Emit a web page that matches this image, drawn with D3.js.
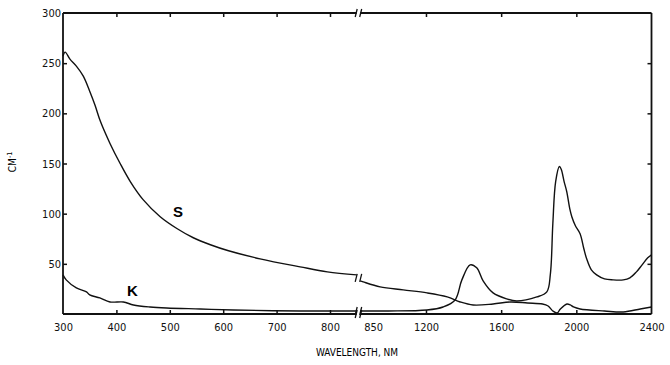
<!DOCTYPE html>
<html>
<head>
<meta charset="utf-8">
<script src="https://cdnjs.cloudflare.com/ajax/libs/d3/7.8.5/d3.min.js"></script>
<style>
  body { margin: 0; background: #fff; }
  svg { display: block; }
  .tick text { font-family: "Liberation Sans Narrow", "DejaVu Sans Condensed", "Liberation Sans", sans-serif; font-size: 11px; fill: #111; }
  .domain { display: none; }
  .tick line { stroke: #111; stroke-width: 1.5; }
</style>
</head>
<body>
<div id="chart"></div>
<script>
// break in the x axis: 300-850 nm on the left, 850-2400 nm on the right
var ticksLeft = [300, 400, 500, 600, 700, 800];
var ticksRight = [850, 1200, 1600, 2000, 2400];
var ticksY = [50, 100, 150, 200, 250, 300];

// S curve (scattering), cm-1
var sLeftWl = [300, 304, 313, 325, 338, 350, 360, 370, 388, 407, 426, 450, 482, 514, 544, 576, 610, 669, 744, 795, 850];
var sLeftVal = [257, 261, 254, 247, 237, 222, 208, 192, 170, 150, 132, 114, 97, 85, 76, 69, 63, 55, 47, 42, 39];
var sRightWl = [850, 866, 956, 1079, 1206, 1313, 1382, 1451, 1557, 1650, 1740, 1820, 1850, 1875, 1898, 1915, 1950, 1968, 1985, 2020, 2150, 2250, 2340, 2400];
var sRightVal = [33, 32, 27, 24, 21, 17, 12, 9, 10, 12, 11, 10, 8, 3, 1, 5, 10, 9, 7, 5, 3, 2, 5, 7];

// K curve (absorption), cm-1
var kLeftWl = [300, 306, 325, 344, 350, 369, 388, 413, 432, 463, 494, 557, 619, 744, 850];
var kLeftVal = [39, 34, 26, 22, 19, 16, 12, 12, 9, 7, 6, 5, 4, 3, 3];
var kRightWl = [850, 1000, 1205, 1291, 1355, 1391, 1435, 1470, 1504, 1557, 1630, 1683, 1790, 1843, 1862, 1875, 1890, 1910, 1920, 1935, 1949, 1965, 1976, 1995, 2020, 2040, 2055, 2080, 2108, 2150, 2195, 2250, 2285, 2320, 2350, 2380, 2400];
var kRightVal = [3, 3, 4, 7, 14, 34, 49, 46, 33, 21, 15, 13, 17, 22, 40, 90, 132, 147, 144, 132, 122, 105, 97, 88, 80, 65, 55, 44, 39, 35, 34, 34, 36, 42, 49, 56, 59];

var svgWidth = 670;
var svgHeight = 365;

var svg = d3.select("#chart")
  .append("svg")
  .attr("width", svgWidth)
  .attr("height", svgHeight);

var xLeft = d3.scaleLinear().domain([300, 850]).range([63, 356.7]);
var xRight = d3.scaleLinear().domain([850, 2400]).range([360.2, 651.5]);
var y = d3.scaleLinear().domain([0, 300]).range([314, 13]);

var plotTop = y(300), plotBottom = y(0), plotLeft = xLeft(300), plotRight = xRight(2400);

// frame
var frame = svg.append("g").attr("stroke", "#111").attr("stroke-width", 1.8).attr("fill", "none");
frame.append("line").attr("x1", plotLeft).attr("x2", plotLeft).attr("y1", plotTop).attr("y2", plotBottom);
frame.append("line").attr("x1", plotRight).attr("x2", plotRight).attr("y1", plotTop).attr("y2", plotBottom);
frame.append("line").attr("x1", plotLeft).attr("x2", xLeft(850)).attr("y1", plotTop).attr("y2", plotTop);
frame.append("line").attr("x1", xRight(850)).attr("x2", plotRight).attr("y1", plotTop).attr("y2", plotTop);
frame.append("line").attr("x1", plotLeft).attr("x2", xLeft(850)).attr("y1", plotBottom).attr("y2", plotBottom);
frame.append("line").attr("x1", xRight(850)).attr("x2", plotRight).attr("y1", plotBottom).attr("y2", plotBottom);

// bottom axis
var fmt = d3.format("d");
var bottomLeft = svg.append("g")
  .attr("transform", `translate(0, ${plotBottom})`)
  .call(d3.axisBottom(xLeft).tickValues(ticksLeft).tickSize(-4).tickPadding(9).tickFormat(fmt));
var bottomRight = svg.append("g")
  .attr("transform", `translate(0, ${plotBottom})`)
  .call(d3.axisBottom(xRight).tickValues(ticksRight).tickSize(-4).tickPadding(9).tickFormat(fmt));
bottomLeft.selectAll(".tick").filter(d => d == 300).select("line").remove();
bottomRight.selectAll(".tick").filter(d => d == 850 || d == 2400).select("line").remove();
bottomRight.selectAll(".tick").filter(d => d == 850).select("text").attr("dx", 13);

// top axis ticks
svg.append("g")
  .attr("transform", `translate(0, ${plotTop})`)
  .call(d3.axisTop(xLeft).tickValues([400, 500, 600, 700, 800]).tickSize(-4).tickFormat(""));
svg.append("g")
  .attr("transform", `translate(0, ${plotTop})`)
  .call(d3.axisTop(xRight).tickValues([1200, 1600, 2000]).tickSize(-4).tickFormat(""));

// left and right axis
var leftAxis = svg.append("g")
  .attr("transform", `translate(${plotLeft}, 0)`)
  .call(d3.axisLeft(y).tickValues(ticksY).tickSize(-4).tickPadding(2).tickFormat(fmt));
leftAxis.selectAll(".tick").filter(d => d == 300).select("line").remove();
svg.append("g")
  .attr("transform", `translate(${plotRight}, 0)`)
  .call(d3.axisRight(y).tickValues([50, 100, 150, 200, 250]).tickSize(-4).tickFormat(""));

// curves
var lineLeft = d3.line().x(d => xLeft(d[0])).y(d => y(d[1])).curve(d3.curveCatmullRom.alpha(0.5));
var lineRight = d3.line().x(d => xRight(d[0])).y(d => y(d[1])).curve(d3.curveCatmullRom.alpha(0.5));

var curves = svg.append("g").attr("fill", "none").attr("stroke", "#111").attr("stroke-width", 1.4);
curves.append("path").attr("d", lineLeft(d3.zip(sLeftWl, sLeftVal)));
curves.append("path").attr("d", lineRight(d3.zip(sRightWl, sRightVal)));
curves.append("path").attr("d", lineLeft(d3.zip(kLeftWl, kLeftVal)));
curves.append("path").attr("d", lineRight(d3.zip(kRightWl, kRightVal)));

// break marks
var breaks = svg.append("g").attr("stroke", "#111").attr("stroke-width", 1.3);
[y(300), y(0), y(36), y(3)].forEach(function(yy) {
  breaks.append("line").attr("x1", xLeft(850) - 1.5).attr("x2", xLeft(850) + 0.5).attr("y1", yy + 4).attr("y2", yy - 4);
  breaks.append("line").attr("x1", xRight(850) - 0.5).attr("x2", xRight(850) + 1.5).attr("y1", yy + 4).attr("y2", yy - 4);
});

// curve labels
svg.append("text").attr("x", xLeft(506)).attr("y", y(97))
  .attr("font-family", "Liberation Sans, sans-serif").attr("font-weight", "bold").attr("font-size", 15)
  .text("S");
svg.append("text").attr("x", xLeft(420)).attr("y", y(18))
  .attr("font-family", "Liberation Sans, sans-serif").attr("font-weight", "bold").attr("font-size", 15)
  .text("K");

// axis titles
svg.append("text")
  .attr("x", 357).attr("y", 356)
  .attr("text-anchor", "middle")
  .attr("font-family", "Liberation Sans Narrow, DejaVu Sans Condensed, sans-serif")
  .attr("font-size", 10)
  .text("WAVELENGTH, NM");

svg.append("text")
  .attr("transform", "translate(16, 162) rotate(-90)")
  .attr("text-anchor", "middle")
  .attr("font-family", "Liberation Sans Narrow, DejaVu Sans Condensed, sans-serif")
  .attr("font-size", 10)
  .html('CM<tspan baseline-shift="super" font-size="7">-1</tspan>');
</script>
</body>
</html>
